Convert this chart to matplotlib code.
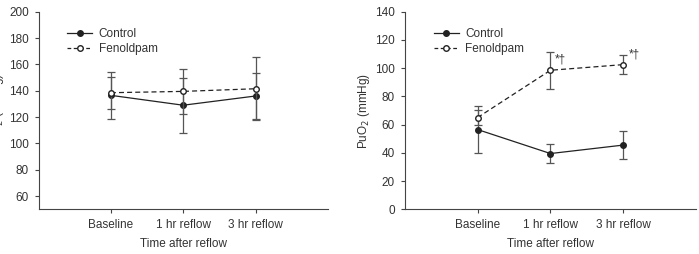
import matplotlib
matplotlib.use('Agg')
import matplotlib.pyplot as plt
from matplotlib.lines import Line2D

plt.rcParams['font.family'] = ['Liberation Sans', 'DejaVu Sans']

# --- data ---
timepoints = ['Baseline', '1 hr reflow', '3 hr reflow']
x = [1, 2, 3]

# left panel: PaO2 (mmHg)
pao2_control = [136.5, 129, 136]
pao2_control_err = [18, 21, 17.5]
pao2_fenol = [138.5, 139.5, 141.5]
pao2_fenol_err = [12, 17, 24]

# right panel: PuO2 (mmHg)
puo2_control = [56.5, 39.5, 45.5]
puo2_control_err = [16.5, 7, 10]
puo2_fenol = [65, 98.5, 102.5]
puo2_fenol_err = [5, 13, 6.5]
puo2_marks = ['', '*†', '*†']
mark_pos = [(2.06, 105.8), (3.07, 109.5)]

line_col = '#222222'
err_col = '#555555'
dash = (0, (4, 2.5))

fig = plt.figure(figsize=(6.99, 2.54), dpi=100)
ax1 = fig.add_axes([0.0551, 0.176, 0.414, 0.778])
ax2 = fig.add_axes([0.579, 0.176, 0.417, 0.778])


def draw_panel(ax, ctrl, ctrl_err, fen, fen_err, ylim, yticks, ylabel):
    ax.errorbar(x, ctrl, yerr=ctrl_err, color=line_col, ecolor=err_col,
                elinewidth=0.9, capsize=3, capthick=0.9, lw=0.9,
                marker='o', ms=4, mfc=line_col, mec=line_col, zorder=3)
    ax.errorbar(x, fen, yerr=fen_err, color=line_col, ecolor=err_col,
                elinewidth=0.9, capsize=3, capthick=0.9, lw=0.9, ls=dash,
                marker='o', ms=4, mfc='white', mec=line_col, zorder=4)
    ax.set_xlim(0, 4)
    ax.set_ylim(*ylim)
    ax.set_yticks(yticks)
    ax.set_xticks(x)
    ax.set_xticklabels(timepoints)
    ax.set_xlabel('Time after reflow', fontsize=8.5, color='#333333', labelpad=5)
    ax.set_ylabel(ylabel, fontsize=8.5, color='#333333', labelpad=2)
    for s in ['top', 'right']:
        ax.spines[s].set_visible(False)
    for s in ['left', 'bottom']:
        ax.spines[s].set_color('#444444')
        ax.spines[s].set_linewidth(0.8)
    ax.tick_params(direction='out', length=3, width=0.8, color='#444444',
                   labelsize=8.5, labelcolor='#333333', pad=4)
    handles = [Line2D([], [], color=line_col, lw=0.9, marker='o', ms=4,
                      mfc=line_col, mec=line_col),
               Line2D([], [], color=line_col, lw=0.9, ls=(0, (3, 2)), marker='o', ms=4,
                      mfc='white', mec=line_col)]
    leg = ax.legend(handles, ['Control', 'Fenoldpam'], loc='upper left',
                    bbox_to_anchor=(0.1, 0.915), frameon=False,
                    fontsize=8.5, handlelength=2.1, handletextpad=0.55,
                    labelspacing=0.2, borderaxespad=0, borderpad=0)
    for t in leg.get_texts():
        t.set_color('#333333')


draw_panel(ax1, pao2_control, pao2_control_err, pao2_fenol, pao2_fenol_err,
           (50, 200), range(60, 201, 20), 'PaO$_2$ (mmHg)')
draw_panel(ax2, puo2_control, puo2_control_err, puo2_fenol, puo2_fenol_err,
           (0, 140), range(0, 141, 20), 'PuO$_2$ (mmHg)')

for (px, py), m in zip(mark_pos, [m for m in puo2_marks if m]):
    ax2.text(px, py, m, fontsize=8.5, color='#333333', va='center', ha='left')

fig.savefig('out.png', dpi=100)
